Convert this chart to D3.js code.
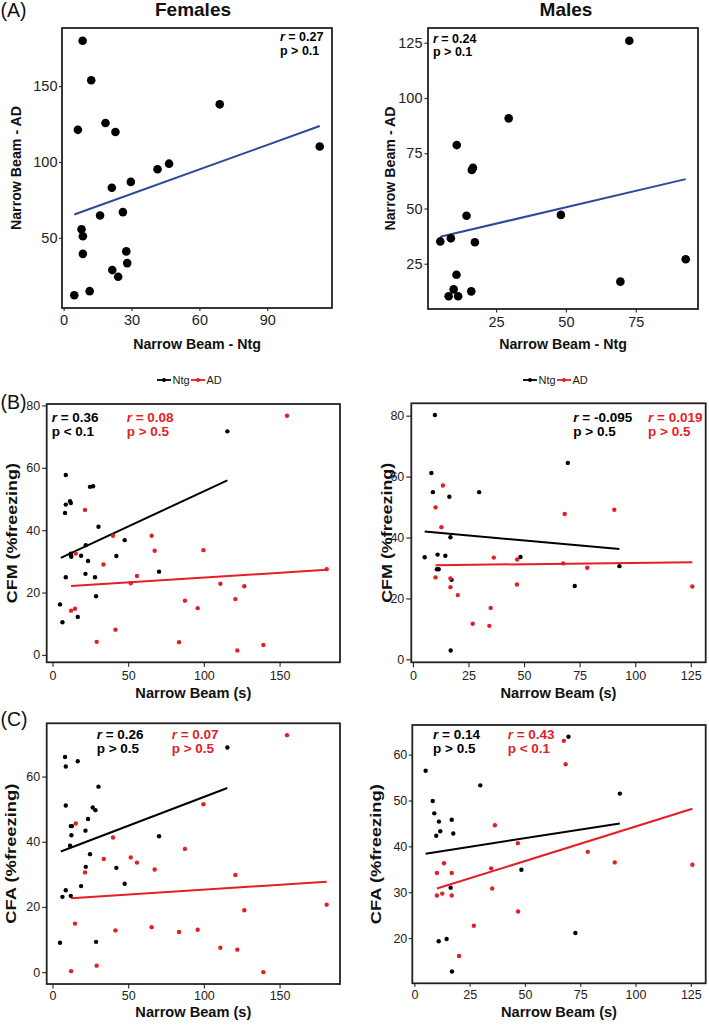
<!DOCTYPE html>
<html><head><meta charset="utf-8">
<script src="https://cdn.jsdelivr.net/npm/d3@7"></script>
<style>
body{margin:0;background:#fff}
svg{display:block;font-family:"Liberation Sans",Arial,Helvetica,sans-serif}
</style>
</head><body>
<svg id="chart" width="709" height="1025"></svg>
<script>
// ---------- DATA ----------
// (A) Females: Narrow Beam Ntg vs AD
const aFemNtg = [8.4, 12.2, 6.3, 18.5, 22.9, 69.0, 113.2, 41.5, 46.6, 29.7, 21.3, 16.1, 26.2, 7.9, 8.5, 8.5, 27.7, 28.1, 21.5, 24.1, 11.5, 4.7];
const aFemAD  = [179.9, 153.9, 121.2, 125.7, 119.8, 138.0, 110.2, 95.2, 98.9, 86.9, 83.0, 64.8, 67.0, 55.7, 51.1, 39.5, 41.1, 33.4, 28.8, 24.4, 14.9, 12.2];
const aFemFitX = [4.7, 113.2];
const aFemFitY = [65.4, 123.7];
// (A) Males
const aMaleNtg = [72.7, 29.5, 10.9, 16.7, 16.3, 14.4, 48.2, 5.0, 8.8, 17.4, 10.8, 9.8, 8.0, 11.4, 16.1, 69.5, 92.9];
const aMaleAD  = [125.9, 90.8, 78.7, 68.4, 67.4, 46.7, 47.1, 35.1, 36.5, 34.7, 20.0, 13.4, 10.3, 10.3, 12.5, 16.9, 27.0];
const aMaleFitX = [5.0, 92.9];
const aMaleFitY = [37.2, 63.3];

// (B) Females: Narrow Beam (s) vs CFM
const bFemNtgX = [115.5, 8.8, 8.8, 8.3, 11.6, 12.1, 24.8, 26.8, 30.4, 47.7, 22.0, 42.2, 12.3, 12.4, 12.1, 18.9, 23.5, 70.4, 8.8, 21.8, 28.1, 28.8, 5.0, 6.6, 16.7];
const bFemNtgY = [71.7, 57.7, 48.2, 45.5, 49.3, 48.7, 53.9, 54.1, 41.1, 36.8, 35.2, 31.7, 32.0, 31.5, 32.5, 31.8, 30.1, 26.7, 24.9, 26.0, 24.9, 18.8, 16.2, 10.5, 12.2];
const bFemADX  = [154.9, 181.1, 21.5, 40.0, 65.5, 67.5, 99.7, 15.4, 33.7, 55.8, 51.7, 110.9, 126.7, 120.8, 87.5, 95.9, 14.9, 12.3, 41.6, 29.2, 83.6, 139.3, 122.1];
const bFemADY  = [76.7, 27.5, 46.5, 38.2, 38.2, 33.4, 33.6, 32.5, 29.0, 25.3, 23.0, 22.8, 22.0, 17.9, 17.4, 15.0, 14.8, 14.2, 8.1, 4.2, 4.1, 3.2, 1.4];
const bFemNtgFitX = [5.5, 115.5], bFemNtgFitY = [31.1, 56.0];
const bFemADFitX  = [12.3, 181.1], bFemADFitY  = [22.1, 27.3];
// (B) Males
const bMaleNtgX = [9.9, 8.3, 9.0, 29.8, 16.4, 69.7, 16.9, 5.3, 11.1, 14.6, 10.8, 11.6, 48.4, 17.4, 92.9, 72.8, 17.0];
const bMaleNtgY = [80.2, 61.2, 54.9, 54.9, 53.4, 64.5, 40.1, 33.5, 34.4, 34.0, 29.6, 29.6, 33.6, 26.1, 30.6, 24.1, 2.9];
const bMaleADX  = [13.5, 10.2, 90.6, 68.3, 12.8, 36.4, 46.9, 67.6, 78.4, 10.2, 16.9, 16.9, 46.8, 125.7, 20.2, 35.0, 26.9, 34.4];
const bMaleADY  = [57.1, 49.9, 49.1, 47.7, 43.4, 33.4, 32.8, 31.5, 30.1, 26.9, 26.6, 23.7, 24.6, 23.9, 21.1, 16.9, 11.7, 11.0];
const bMaleNtgFitX = [5.3, 92.9], bMaleNtgFitY = [42.0, 36.2];
const bMaleADFitX  = [10.2, 125.7], bMaleADFitY  = [30.9, 31.9];

// (C) Females: Narrow Beam (s) vs CFA
const cFemNtgX = [115.5, 8.3, 8.8, 16.7, 30.4, 8.8, 26.6, 28.4, 23.5, 12.1, 12.9, 21.8, 12.5, 70.4, 11.6, 24.8, 22.0, 42.2, 47.7, 18.9, 8.8, 6.6, 12.1, 5.0, 28.8];
const cFemNtgY = [68.9, 66.0, 63.1, 64.7, 56.9, 51.1, 50.5, 49.7, 47.0, 44.8, 44.8, 43.4, 42.0, 41.7, 38.8, 36.2, 32.3, 32.0, 27.1, 26.4, 25.1, 23.1, 23.4, 9.0, 9.3];
const cFemADX  = [154.9, 99.7, 15.4, 40.0, 87.5, 51.7, 33.9, 55.8, 67.5, 21.5, 120.8, 181.1, 126.7, 14.9, 65.5, 41.6, 95.9, 83.6, 110.9, 122.1, 29.2, 12.3, 139.3];
const cFemADY  = [72.7, 51.5, 45.6, 41.3, 37.8, 35.2, 34.7, 33.6, 31.5, 30.6, 29.8, 20.7, 19.0, 14.9, 13.8, 12.8, 13.0, 12.3, 7.5, 6.9, 2.0, 0.3, 0.0];
const cFemNtgFitX = [5.5, 115.5], cFemNtgFitY = [37.0, 56.5];
const cFemADFitX  = [12.3, 181.1], cFemADFitY  = [22.7, 27.7];
// (C) Males
const cMaleNtgX = [69.7, 5.1, 29.8, 92.9, 8.3, 9.0, 11.1, 16.9, 11.7, 17.6, 9.9, 48.4, 16.4, 14.6, 11.0, 72.8, 17.0];
const cMaleNtgY = [63.9, 56.5, 53.3, 51.5, 49.9, 47.2, 45.4, 45.8, 43.3, 42.8, 42.3, 34.9, 31.0, 19.8, 19.3, 21.1, 12.7];
const cMaleADX  = [67.6, 68.4, 36.4, 46.8, 78.4, 90.6, 125.7, 13.4, 10.2, 16.9, 34.7, 35.2, 10.2, 12.6, 16.9, 46.9, 26.9, 20.2];
const cMaleADY  = [63.0, 57.9, 44.6, 40.7, 38.8, 36.5, 36.0, 36.3, 34.2, 34.2, 35.2, 30.8, 29.3, 29.7, 29.3, 25.8, 22.7, 16.1];
const cMaleNtgFitX = [5.1, 92.9], cMaleNtgFitY = [38.4, 45.0];
const cMaleADFitX  = [10.2, 125.7], cMaleADFitY  = [30.8, 48.2];

// Tick labels
const aFemXTicks = [0, 30, 60, 90], aFemYTicks = [50, 100, 150];
const aMaleXTicks = [25, 50, 75], aMaleYTicks = [25, 50, 75, 100, 125];
const bFemXTicks = [0, 50, 100, 150], bFemYTicks = [0, 20, 40, 60, 80];
const bMaleXTicks = [0, 25, 50, 75, 100, 125], bMaleYTicks = [0, 20, 40, 60, 80];
const cFemXTicks = [0, 50, 100, 150], cFemYTicks = [0, 20, 40, 60];
const cMaleXTicks = [0, 25, 50, 75, 100, 125], cMaleYTicks = [20, 30, 40, 50, 60];

// Labels / stats text
const groupNames = ["Ntg", "AD"];
const sexTitles = ["Females", "Males"];
const panelTags = ["(A)", "(B)", "(C)"];

// ---------- STYLE ----------
const BLACK = "#000000", RED = "#E41E26", BLUE = "#2C4A9A", AXIS = "#333333";
const svg = d3.select("#chart");

function zipXY(xs, ys) { return xs.map((v, i) => [v, ys[i]]); }

function panel(o) {
  const allX = o.series.flatMap(s => s.x), allY = o.series.flatMap(s => s.y);
  const ex = d3.extent(allX), ey = d3.extent(allY);
  const mx = (ex[1] - ex[0]) * 0.05, my = (ey[1] - ey[0]) * 0.05;
  const x = d3.scaleLinear().domain([ex[0] - mx, ex[1] + mx]).range([o.box.l, o.box.r]);
  const y = d3.scaleLinear().domain([ey[0] - my, ey[1] + my]).range([o.box.b, o.box.t]);
  const g = svg.append("g");

  const gx = g.append("g").attr("transform", `translate(0,${o.box.b})`)
    .call(d3.axisBottom(x).tickValues(o.xTicks).tickSize(o.tick).tickPadding(o.padX).tickSizeOuter(0));
  const gy = g.append("g").attr("transform", `translate(${o.box.l},0)`)
    .call(d3.axisLeft(y).tickValues(o.yTicks).tickSize(o.tick).tickPadding(o.padY).tickSizeOuter(0));
  [gx, gy].forEach(a => {
    a.select(".domain").remove();
    a.selectAll(".tick line").attr("stroke", AXIS).attr("stroke-width", 1.2);
    a.selectAll(".tick text").attr("fill", "#222").style("font-size", o.tickFont + "px")
      .style("font-family", '"Liberation Sans",Arial,sans-serif');
  });

  const line = d3.line().x(d => x(d[0])).y(d => y(d[1]));
  o.fits.forEach(f => {
    g.append("path").datum(zipXY(f.x, f.y)).attr("d", line)
      .attr("fill", "none").attr("stroke", f.color).attr("stroke-width", 2);
  });
  o.series.forEach(s => {
    g.append("g").selectAll("circle").data(zipXY(s.x, s.y)).join("circle")
      .attr("cx", d => x(d[0])).attr("cy", d => y(d[1])).attr("r", o.r).attr("fill", s.color);
  });
  g.append("rect").attr("x", o.box.l).attr("y", o.box.t)
    .attr("width", o.box.r - o.box.l).attr("height", o.box.b - o.box.t)
    .attr("fill", "none").attr("stroke", "#222").attr("stroke-width", 1.8);

  // axis titles
  g.append("text").attr("x", (o.box.l + o.box.r) / 2 + (o.xLabDx || 0)).attr("y", o.xLabY)
    .attr("text-anchor", "middle").attr("font-weight", "bold").attr("font-size", o.labFont)
    .attr("fill", "#111").text(o.xLabel);
  const yl = g.append("text")
    .attr("transform", `translate(${o.yLabX},${(o.box.t + o.box.b) / 2}) rotate(-90)`)
    .attr("dy", "0.35em").attr("text-anchor", "middle").attr("font-weight", "bold")
    .attr("font-size", o.yLabFont || o.labFont).attr("fill", "#111").text(o.yLabel);
  if (o.yLabLen) yl.attr("textLength", o.yLabLen).attr("lengthAdjust", "spacingAndGlyphs");

  // stats
  o.stats.forEach(s => {
    const t1 = g.append("text").attr("x", s.x).attr("y", s.y1).attr("font-weight", "bold")
      .attr("font-size", o.statFont).attr("fill", s.color);
    t1.append("tspan").attr("font-style", "italic").text("r");
    t1.append("tspan").text(" = " + s.r);
    g.append("text").attr("x", s.x).attr("y", s.y2).attr("font-weight", "bold")
      .attr("font-size", o.statFont).attr("fill", s.color).text(s.p);
  });
}

// ---------- PANEL A ----------
panel({
  box: {l: 62, r: 332, t: 28, b: 308}, r: 4.3, tick: 3, padX: 4, padY: 1.5, tickFont: 14.5,
  series: [{x: aFemNtg, y: aFemAD, color: BLACK}],
  fits: [{x: aFemFitX, y: aFemFitY, color: BLUE}],
  xTicks: aFemXTicks, yTicks: aFemYTicks,
  xLabel: "Narrow Beam - Ntg", yLabel: "Narrow Beam - AD", labFont: 14.2, xLabY: 349, yLabX: 16,
  statFont: 12.5, stats: [{x: 280, y1: 40.5, y2: 55, color: BLACK, r: "0.27", p: "p > 0.1"}]
});
panel({
  box: {l: 428, r: 698, t: 28, b: 309}, r: 4.3, tick: 3.5, padX: 4, padY: 2, tickFont: 14.5,
  series: [{x: aMaleNtg, y: aMaleAD, color: BLACK}],
  fits: [{x: aMaleFitX, y: aMaleFitY, color: BLUE}],
  xTicks: aMaleXTicks, yTicks: aMaleYTicks,
  xLabel: "Narrow Beam - Ntg", yLabel: "Narrow Beam - AD", labFont: 14.2, xLabY: 349, yLabX: 390,
  statFont: 12.5, stats: [{x: 433, y1: 42.5, y2: 56, color: BLACK, r: "0.24", p: "p > 0.1"}]
});

// ---------- PANEL B ----------
panel({
  box: {l: 46.7, r: 340, t: 404, b: 662.3}, r: 2.2, tick: 4.5, padX: 4, padY: 2, tickFont: 12.5,
  series: [{x: bFemNtgX, y: bFemNtgY, color: BLACK}, {x: bFemADX, y: bFemADY, color: RED}],
  fits: [{x: bFemNtgFitX, y: bFemNtgFitY, color: BLACK}, {x: bFemADFitX, y: bFemADFitY, color: RED}],
  xTicks: bFemXTicks, yTicks: bFemYTicks,
  xLabel: "Narrow Beam (s)", yLabel: "CFM (%freezing)", labFont: 14.6, yLabFont: 15.5, yLabLen: 140,
  xLabY: 698, yLabX: 12,
  statFont: 13.5, stats: [
    {x: 51.7, y1: 421.5, y2: 435.5, color: BLACK, r: "0.36", p: "p < 0.1"},
    {x: 126.7, y1: 421.5, y2: 435.5, color: RED, r: "0.08", p: "p > 0.5"}]
});
panel({
  box: {l: 411.3, r: 705.7, t: 403.3, b: 662.3}, r: 2.2, tick: 5, padX: 4, padY: 2, tickFont: 12.5,
  series: [{x: bMaleNtgX, y: bMaleNtgY, color: BLACK}, {x: bMaleADX, y: bMaleADY, color: RED}],
  fits: [{x: bMaleNtgFitX, y: bMaleNtgFitY, color: BLACK}, {x: bMaleADFitX, y: bMaleADFitY, color: RED}],
  xTicks: bMaleXTicks, yTicks: bMaleYTicks,
  xLabel: "Narrow Beam (s)", yLabel: "CFM (%freezing)", labFont: 14.6, yLabFont: 15.5, yLabLen: 140,
  xLabY: 698, yLabX: 386.5,
  statFont: 13.5, stats: [
    {x: 573.3, y1: 421.5, y2: 435.5, color: BLACK, r: "-0.095", p: "p > 0.5"},
    {x: 648, y1: 421.5, y2: 435.5, color: RED, r: "0.019", p: "p > 0.5"}]
});

// ---------- PANEL C ----------
panel({
  box: {l: 46.7, r: 340, t: 723.3, b: 984}, r: 2.2, tick: 4.5, padX: 3, padY: 2, tickFont: 12.5,
  series: [{x: cFemNtgX, y: cFemNtgY, color: BLACK}, {x: cFemADX, y: cFemADY, color: RED}],
  fits: [{x: cFemNtgFitX, y: cFemNtgFitY, color: BLACK}, {x: cFemADFitX, y: cFemADFitY, color: RED}],
  xTicks: cFemXTicks, yTicks: cFemYTicks,
  xLabel: "Narrow Beam (s)", yLabel: "CFA (%freezing)", labFont: 14.6, yLabFont: 15.5, yLabLen: 140,
  xLabY: 1017, yLabX: 11,
  statFont: 13.5, stats: [
    {x: 96.7, y1: 739, y2: 753, color: BLACK, r: "0.26", p: "p > 0.5"},
    {x: 171.7, y1: 739, y2: 753, color: RED, r: "0.07", p: "p > 0.5"}]
});
panel({
  box: {l: 412.3, r: 705.7, t: 725, b: 983.3}, r: 2.2, tick: 3.5, padX: 3, padY: 1.5, tickFont: 12.5,
  series: [{x: cMaleNtgX, y: cMaleNtgY, color: BLACK}, {x: cMaleADX, y: cMaleADY, color: RED}],
  fits: [{x: cMaleNtgFitX, y: cMaleNtgFitY, color: BLACK}, {x: cMaleADFitX, y: cMaleADFitY, color: RED}],
  xTicks: cMaleXTicks, yTicks: cMaleYTicks,
  xLabel: "Narrow Beam (s)", yLabel: "CFA (%freezing)", labFont: 14.6, yLabFont: 15.5, yLabLen: 140,
  xLabY: 1017, yLabX: 376,
  statFont: 13.5, stats: [
    {x: 433, y1: 739, y2: 753, color: BLACK, r: "0.14", p: "p > 0.5"},
    {x: 507.7, y1: 739, y2: 753, color: RED, r: "0.43", p: "p < 0.1"}]
});

// ---------- TITLES, TAGS, LEGENDS ----------
[[193, sexTitles[0]], [566, sexTitles[1]]].forEach(([cx, t]) => {
  svg.append("text").attr("x", cx).attr("y", 15.5).attr("text-anchor", "middle")
    .attr("font-weight", "bold").attr("font-size", 19).attr("fill", "#111").text(t);
});
[[16.5, panelTags[0]], [408.5, panelTags[1]], [726, panelTags[2]]].forEach(([yy, t]) => {
  svg.append("text").attr("x", 0.5).attr("y", yy).attr("font-size", 19.5).attr("fill", "#111").text(t);
});
function legend(x0, y0) {
  const g = svg.append("g").attr("transform", `translate(${x0},${y0})`);
  const items = [{c: BLACK, t: groupNames[0], dx: 0}, {c: RED, t: groupNames[1], dx: 34}];
  items.forEach(it => {
    g.append("line").attr("x1", it.dx).attr("x2", it.dx + 14).attr("y1", 0).attr("y2", 0)
      .attr("stroke", it.c).attr("stroke-width", 1.8);
    g.append("circle").attr("cx", it.dx + 7).attr("cy", 0).attr("r", 2).attr("fill", it.c);
    g.append("text").attr("x", it.dx + 15.5).attr("y", 4).attr("font-size", 11).attr("fill", "#222").text(it.t);
  });
}
legend(157, 380);
legend(523, 380);
</script>
</body></html>
